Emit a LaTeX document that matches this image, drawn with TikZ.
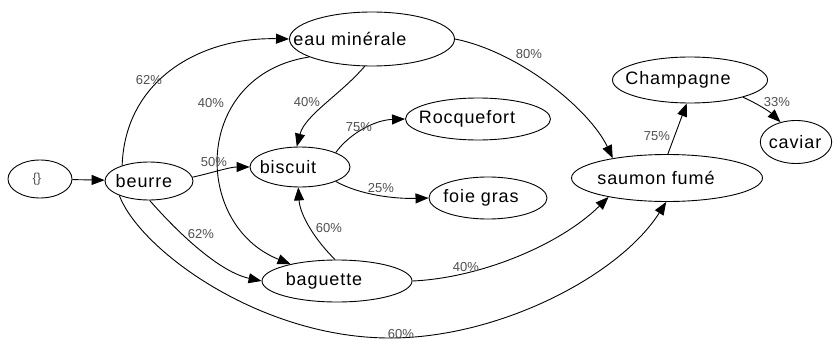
\documentclass[tikz,border=0pt]{standalone}
\usepackage{fontspec}
\setmainfont{Liberation Sans}
\newfontfamily\nodefont[LetterSpace=5]{Liberation Sans}
\usetikzlibrary{shapes.geometric,arrows.meta}
\definecolor{lblgray}{HTML}{505050}
\tikzset{
  st/.style={ellipse, draw=black, line width=0.9pt, inner sep=0pt, font=\nodefont\fontsize{18}{20}\selectfont},
  lbl/.style={inner sep=0pt, text=lblgray, font=\fontsize{13}{14}\selectfont},
  edge/.style={draw=black, line width=0.9pt, -{Triangle[length=13pt,width=10pt]}}
}
\begin{document}
\begin{tikzpicture}[x=1pt,y=-1pt]
\useasboundingbox (0,0) rectangle (833,340);
\fill[white] (0,0) rectangle (833,340);
% states (a negative kern before the text moves it left by half the kern)
\node[st, minimum width=64pt, minimum height=38pt, font=\fontsize{13}{14}\selectfont, text=lblgray] (empty) at (40,179) {\kern-6pt\{\}};
\node[st, minimum width=88pt, minimum height=38pt] (beurre) at (149,181) {\kern-10pt beurre};
\node[st, minimum width=165pt, minimum height=54pt] (eau) at (372,39) {\kern-44pt eau minérale};
\node[st, minimum width=100pt, minimum height=40pt] (biscuit) at (300,167) {\kern-24pt biscuit};
\node[st, minimum width=145pt, minimum height=42pt] (roq) at (478,119) {\kern-22pt Rocquefort};
\node[st, minimum width=118pt, minimum height=42pt] (foie) at (488,198) {\kern-14pt foie gras};
\node[st, minimum width=150pt, minimum height=42pt] (baguette) at (337,281) {\kern-26pt baguette};
\node[st, minimum width=191pt, minimum height=47pt] (saumon) at (667,178) {\kern-22pt saumon fumé};
\node[st, minimum width=155pt, minimum height=46pt] (champ) at (690,80) {\kern-24pt Champagne};
\node[st, minimum width=67pt, minimum height=43pt] (caviar) at (796,142) {\kern-2pt caviar};
\coordinate (m60) at (390,338);
% transitions
\draw[edge] (empty) -- (beurre);
\draw[edge] (beurre.150) .. controls (125,80) and (200,37) .. (eau.180);
\draw[edge] (eau.196) .. controls (192,75) and (192,225) .. (baguette.160);
\draw[edge] (eau.255) .. controls (340,95) and (305,115) .. (biscuit.99);
\draw[edge] (eau.0) .. controls (520,52) and (590,110) .. (saumon.160);
\draw[edge] (beurre.5) .. controls (215,172) and (230,167) .. (biscuit.180);
\draw[edge] (biscuit.22) .. controls (350,133) and (375,120) .. (roq.180);
\draw[edge] (biscuit.-22) .. controls (360,195) and (395,199) .. (foie.180);
\draw[edge] (beurre.-88) .. controls (180,235) and (220,272) .. (baguette.180);
\draw[edge] (baguette.95) .. controls (315,240) and (300,215) .. (biscuit.-95);
\draw[edge] (baguette.0) .. controls (480,278) and (560,245) .. (saumon.198);
\draw[edge] (beurre.206) .. controls (140,250) and (260,338) .. (m60) .. controls (500,338) and (620,275) .. (saumon.-92);
\draw[edge] (saumon.88) -- (champ.262);
\draw[edge] (champ.-18) .. controls (760,105) and (770,112) .. (caviar.128);
% labels
\node[lbl] (l1) at (149,80) {62\%};
\node[lbl] (l2) at (211,103) {40\%};
\node[lbl] (l3) at (307,102) {40\%};
\node[lbl] (l4) at (529,54) {80\%};
\node[lbl] (l5) at (214,162) {50\%};
\node[lbl] (l6) at (359,127) {75\%};
\node[lbl] (l7) at (381,188) {25\%};
\node[lbl] (l8) at (201,234) {62\%};
\node[lbl] (l9) at (329,228) {60\%};
\node[lbl] (l10) at (466,267) {40\%};
\node[lbl] (l11) at (401,334) {60\%};
\node[lbl] (l12) at (657,136) {75\%};
\node[lbl] (l13) at (777,102) {33\%};
\end{tikzpicture}
\end{document}
